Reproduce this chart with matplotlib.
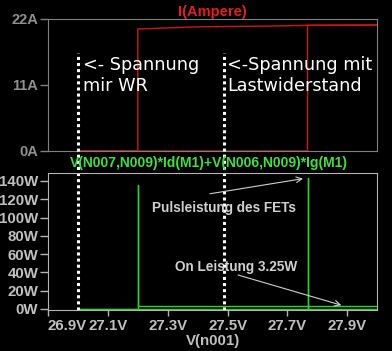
import matplotlib
matplotlib.use("Agg")
import matplotlib.pyplot as plt

# Strom, zwei Durchlaeufe (Einschalten bei 27.2V bzw. 27.77V)
v_i_a = [27.0, 27.2, 27.2, 27.4, 27.65, 27.767, 28.0]
i_a = [0, 0, 20.33, 20.7, 20.83, 20.95, 21.0]
v_i_b = [27.0, 27.767, 27.767, 28.0]
i_b = [0, 0, 20.95, 21.0]

# Verlustleistung FET
v_p_a = [27.0, 27.2, 27.2, 27.2, 28.0]
p_a = [0, 0, 135.6, 3.3, 3.3]
v_p_b = [27.0, 27.767, 27.767, 27.767, 28.0]
p_b = [0, 0, 143, 0, 0]

# Cursor
cursor_v = [27.0, 27.487]

i_ticks = [0, 11, 22]
i_ticklab = ["0A", "11A", "22A"]
p_ticks = [0, 20, 40, 60, 80, 100, 120, 140]
p_ticklab = ["0W", "20W", "40W", "60W", "80W", "100W", "120W", "140W"]
v_ticks = [26.9, 27.1, 27.3, 27.5, 27.7, 27.9]
v_ticklab = ["26.9V", "27.1V", "27.3V", "27.5V", "27.7V", "27.9V"]

lab_font = ["Liberation Sans Narrow", "Liberation Sans", "DejaVu Sans"]
red = "#d01515"
green = "#33cc33"

fig = plt.figure(figsize=(3.92, 3.51), dpi=100, facecolor="black")
W, H = 392.0, 351.0
ax1 = fig.add_axes([48/W, 1-151/H, 329.3/W, 132/H], facecolor="black")
ax2 = fig.add_axes([48/W, 1-310/H, 329.3/W, 137.3/H], facecolor="black")

# oberes Diagramm
ax1.plot(v_i_a, i_a, color=red, lw=1.0)
ax1.plot(v_i_b, i_b, color=red, lw=1.0)
ax1.set_xlim(26.9, 28.0)
ax1.set_ylim(0, 22)
ax1.set_xticks([])
ax1.set_yticks(i_ticks)
ax1.set_yticklabels(i_ticklab, family=lab_font, weight="bold", fontsize=10.5, color="#909090")
ax1.tick_params(axis="y", color="#808080", length=6, width=1, pad=1)
for s in ax1.spines.values():
    s.set_color("#808080")
ax1.text(0.5, 1.0, "I(Ampere)", transform=ax1.transAxes, ha="center", va="bottom",
         color="#e02020", family=lab_font, weight="bold", fontsize=10.5)

ax1.text(27.017, 13.5, "<- Spannung", color="white", fontsize=12.7, family="DejaVu Sans")
ax1.text(27.017, 10.0, "mir WR", color="white", fontsize=12.7, family="DejaVu Sans")
ax1.text(27.499, 13.5, "<-Spannung mit", color="white", fontsize=12.7, family="DejaVu Sans")
ax1.text(27.499, 10.0, "Lastwiderstand", color="white", fontsize=12.7, family="DejaVu Sans")

# unteres Diagramm
ax2.plot(v_p_a, p_a, color=green, lw=1.0)
ax2.plot(v_p_b, p_b, color=green, lw=1.0)
ax2.set_xlim(26.9, 28.0)
ax2.set_ylim(-1.1, 149)
ax2.set_xticks(v_ticks)
ax2.set_xticklabels(v_ticklab, family=lab_font, weight="bold", fontsize=10.8, color="#c0c0c0")
ax2.get_xticklabels()[0].set_horizontalalignment("left")
ax2.set_yticks(p_ticks)
ax2.set_yticklabels(p_ticklab, family=lab_font, weight="bold", fontsize=10.8, color="#c0c0c0")
ax2.tick_params(axis="y", color="#b4b4b4", length=6, width=1, pad=1)
ax2.tick_params(axis="x", color="#b4b4b4", length=4.5, width=1, pad=2)
for s in ax2.spines.values():
    s.set_color("#b4b4b4")
ax2.set_xlabel("V(n001)", family=lab_font, weight="bold", fontsize=10.8, color="#c0c0c0", labelpad=1)
ax2.text(0.49, 1.02, "V(N007,N009)*Id(M1)+V(N006,N009)*Ig(M1)", transform=ax2.transAxes,
         ha="center", va="bottom", color="#40e040", family=lab_font, weight="bold", fontsize=10)

ax2.annotate("", xy=(27.761, 143), xytext=(27.432, 125.5),
             arrowprops=dict(arrowstyle="->", color="#d0d0d0", lw=0.8))
ax2.annotate("", xy=(27.889, 3.3), xytext=(27.526, 38),
             arrowprops=dict(arrowstyle="->", color="#d0d0d0", lw=0.8))
ax2.text(27.247, 110.5, "Pulsleistung des FETs", color="#d0d0d0", va="center",
         family=lab_font, weight="bold", fontsize=9.8)
ax2.text(27.323, 46.3, "On Leistung 3.25W", color="#d0d0d0", va="center",
         family=lab_font, weight="bold", fontsize=9.8)

# Cursorlinien ueber beide Diagramme
for cv in cursor_v:
    ax2.axvline(cv, ymin=0, ymax=1.872, color="white", lw=2.2, ls=(0, (1, 1)), clip_on=False)

fig.savefig("out.png", dpi=100, facecolor="black")
